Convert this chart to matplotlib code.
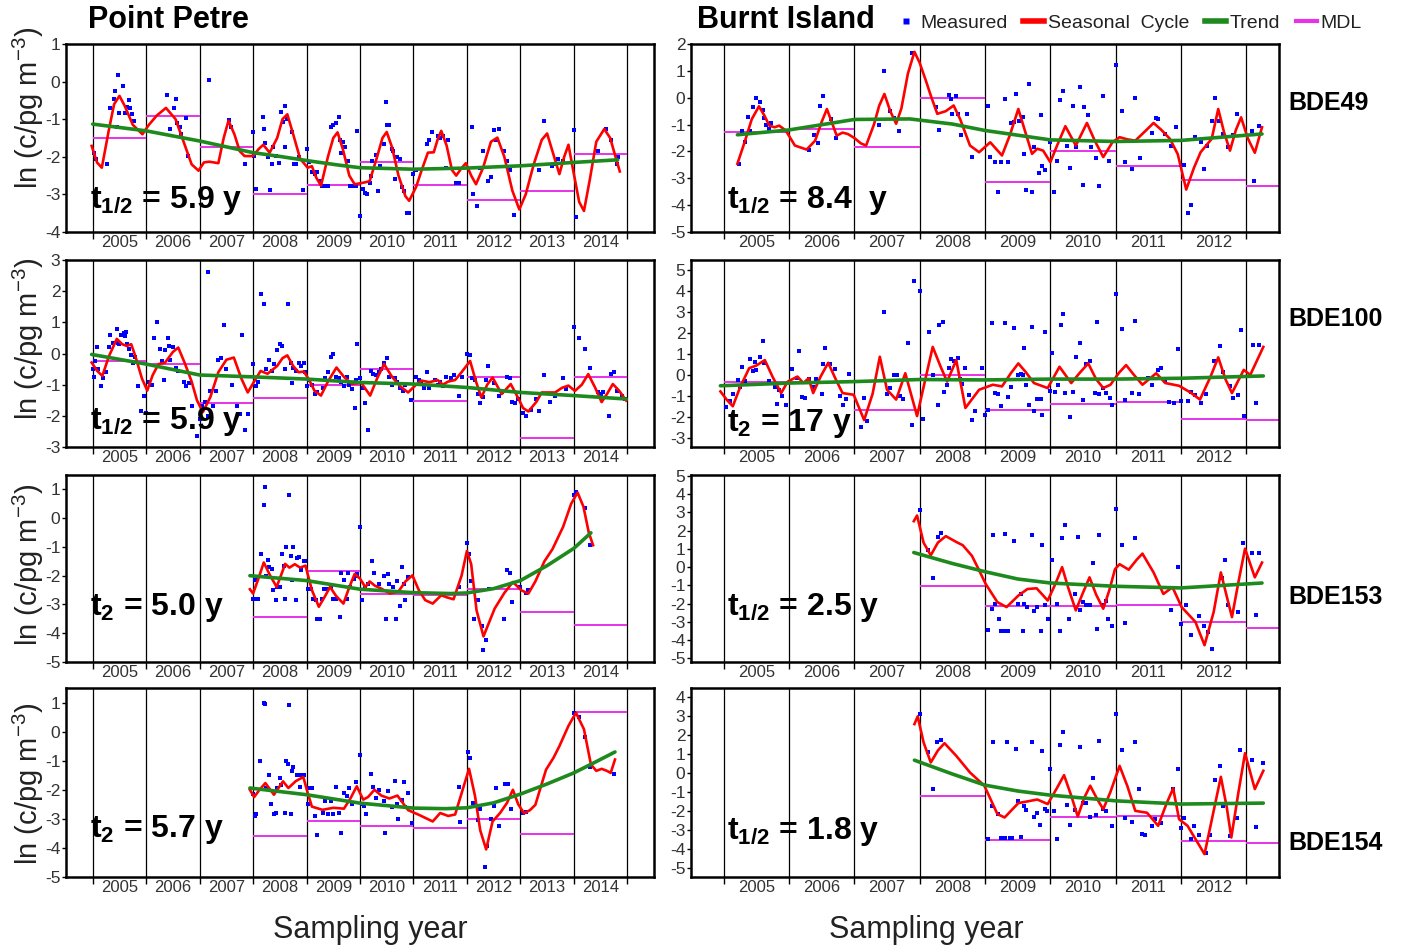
import matplotlib
matplotlib.use('Agg')
import matplotlib.pyplot as plt
from matplotlib import font_manager
from matplotlib.lines import Line2D

# ---------------- DATA ----------------
pp_line_years = list(range(2005, 2016))
pp_label_years = list(range(2005, 2015))
bi_line_years = list(range(2005, 2014))
bi_label_years = list(range(2005, 2013))

# ---- Point Petre BDE49 ----
pp49_meas = [(2005.02,-1.89),(2005.06,-2.06),(2005.27,-2.19),(2005.33,-0.69),(2005.39,-0.46),(2005.41,-0.25),(2005.47,0.17),
 (2005.49,-0.84),(2005.56,-0.11),(2005.60,-0.84),(2005.64,-0.67),(2005.67,-0.49),(2005.69,-0.71),(2005.73,-0.87),(2005.77,-1.06),(2005.45,-1.20),
 (2006.39,-0.36),(2006.56,-0.45),(2006.45,-1.26),(2006.58,-1.09),(2006.64,-1.22),(2006.66,-1.40),(2006.75,-0.97),(2006.78,-1.98),(2006.52,-0.69),
 (2007.17,0.05),(2007.54,-1.02),(2007.59,-1.22),(2007.85,-2.18),
 (2008.00,-1.35),(2008.02,-1.98),(2008.06,-1.89),(2008.19,-0.95),(2008.20,-1.26),(2008.23,-1.62),(2008.27,-2.00),(2008.35,-2.18),(2008.37,-1.75),
 (2008.42,-1.99),(2008.48,-2.17),(2008.52,-0.82),(2008.56,-1.07),(2008.60,-0.64),(2008.59,-1.74),(2008.64,-1.00),(2008.73,-1.35),(2008.77,-2.18),
 (2008.81,-2.18),(2008.85,-2.00),(2008.06,-2.86),(2008.31,-2.89),(2008.94,-2.89),
 (2009.00,-1.80),(2009.05,-2.15),(2009.10,-2.40),(2009.15,-2.45),(2009.20,-2.40),(2009.25,-2.65),(2009.28,-2.78),(2009.32,-2.78),(2009.35,-2.78),
 (2009.40,-2.78),(2009.45,-1.20),(2009.50,-1.15),(2009.55,-1.10),(2009.60,-0.95),(2009.62,-1.55),(2009.68,-1.60),(2009.72,-1.75),(2009.65,-1.90),
 (2009.78,-2.10),(2009.82,-2.78),(2009.88,-2.78),(2009.92,-2.78),(2009.95,-1.32),
 (2010.00,-3.57),(2010.05,-2.85),(2010.10,-2.95),(2010.13,-3.00),(2010.18,-2.70),(2010.20,-2.50),(2010.30,-1.95),(2010.33,-2.90),(2010.38,-2.25),
 (2010.45,-1.65),(2010.50,-1.15),(2010.55,-1.15),(2010.60,-1.80),(2010.62,-1.85),(2010.65,-2.60),(2010.70,-2.00),(2010.75,-2.05),(2010.78,-2.80),
 (2010.82,-2.90),(2010.88,-3.50),(2010.92,-3.50),(2010.48,-0.55),(2010.22,-2.10),
 (2011.00,-2.45),(2011.05,-2.35),(2011.25,-1.65),(2011.30,-1.55),(2011.35,-1.35),(2011.45,-1.45),(2011.50,-1.50),(2011.55,-1.45),(2011.60,-2.30),
 (2011.65,-1.55),(2011.80,-2.70),(2011.85,-2.70),
 (2012.10,-1.20),(2012.12,-3.00),(2012.18,-3.30),(2012.25,-2.30),(2012.30,-1.85),(2012.40,-2.65),(2012.45,-2.55),(2012.50,-1.30),(2012.55,-1.55),
 (2012.60,-1.25),(2012.70,-1.85),(2012.75,-2.10),(2012.80,-2.35),(2012.88,-3.55),
 (2013.35,-2.35),(2013.45,-1.05),(2013.60,-2.25),(2013.65,-2.20),(2013.70,-2.05),(2013.80,-2.10),
 (2014.00,-1.30),(2014.05,-3.60),(2014.45,-1.85),(2014.60,-1.25),(2014.70,-1.55),(2014.80,-2.20),(2014.82,-2.00)]
pp49_sc = [(2004.98,-1.71),(2005.08,-2.15),(2005.17,-2.29),(2005.30,-1.30),(2005.40,-0.60),(2005.50,-0.38),(2005.60,-0.65),(2005.75,-1.15),
 (2005.93,-1.40),(2006.05,-1.15),(2006.20,-0.90),(2006.37,-0.70),(2006.55,-1.00),(2006.70,-1.60),(2006.85,-2.20),(2006.98,-2.37),(2007.08,-2.15),
 (2007.18,-2.13),(2007.35,-2.17),(2007.45,-1.50),(2007.54,-1.04),(2007.65,-1.40),(2007.75,-1.85),(2007.84,-1.98),(2008.00,-1.98),(2008.10,-1.80),
 (2008.19,-1.68),(2008.31,-1.89),(2008.45,-1.50),(2008.55,-1.00),(2008.64,-0.87),(2008.75,-1.40),(2008.88,-2.05),(2009.02,-2.29),(2009.10,-2.25),
 (2009.18,-2.55),(2009.27,-2.77),(2009.40,-2.00),(2009.50,-1.50),(2009.58,-1.35),(2009.68,-1.80),(2009.80,-2.50),(2009.90,-2.73),(2010.06,-2.69),
 (2010.18,-2.65),(2010.32,-2.00),(2010.42,-1.50),(2010.50,-1.34),(2010.60,-1.75),(2010.72,-2.50),(2010.85,-3.05),(2010.92,-3.17),(2011.05,-2.80),
 (2011.15,-2.37),(2011.27,-1.89),(2011.38,-1.88),(2011.45,-1.55),(2011.52,-1.31),(2011.62,-1.70),(2011.72,-2.35),(2011.80,-2.50),(2011.90,-2.30),
 (2011.98,-2.17),(2012.08,-2.50),(2012.17,-2.73),(2012.30,-2.30),(2012.45,-1.60),(2012.57,-1.49),(2012.70,-2.00),(2012.85,-2.90),(2012.98,-3.40),
 (2013.10,-3.00),(2013.25,-2.20),(2013.40,-1.55),(2013.50,-1.38),(2013.60,-1.85),(2013.73,-2.46),(2013.82,-2.00),(2013.90,-1.68),(2013.98,-2.30),
 (2014.10,-3.20),(2014.19,-3.44),(2014.30,-2.60),(2014.42,-1.60),(2014.57,-1.26),(2014.68,-1.50),(2014.78,-2.00),(2014.86,-2.39)]
pp49_tr = [(2005.0,-1.13),(2006.0,-1.31),(2007.0,-1.58),(2008.0,-1.89),(2008.5,-1.99),(2009.1,-2.12),(2009.6,-2.22),(2010.0,-2.29),
 (2011.0,-2.33),(2012.0,-2.30),(2013.0,-2.24),(2014.0,-2.15),(2014.82,-2.08)]
pp49_mdl_years = list(range(2005, 2015))
pp49_mdl = [-1.49,-0.91,-1.75,-2.98,-2.74,-2.15,-2.74,-3.15,-2.91,-1.92]

# ---- Point Petre BDE100 ----
pp100_meas = [(2005.00,-0.50),(2005.02,-0.75),(2005.05,-0.25),(2005.08,0.20),(2005.10,-0.50),(2005.15,-1.05),(2005.20,-0.80),(2005.25,-0.60),
 (2005.30,0.20),(2005.33,0.60),(2005.38,0.35),(2005.45,0.80),(2005.48,0.35),(2005.50,0.30),(2005.52,0.60),(2005.58,0.65),(2005.60,0.55),
 (2005.62,0.70),(2005.65,0.30),(2005.68,0.15),(2005.72,-0.05),(2005.75,-0.30),(2005.80,-0.10),(2005.85,-1.05),(2005.90,-1.85),(2005.95,-1.35),
 (2006.00,-1.90),(2006.05,-0.90),(2006.10,-1.00),(2006.15,0.50),(2006.20,1.00),(2006.25,0.15),(2006.30,-0.25),(2006.33,-0.85),(2006.35,0.10),
 (2006.40,0.50),(2006.42,0.25),(2006.45,-0.20),(2006.50,0.20),(2006.55,-0.45),(2006.60,-0.55),(2006.70,-0.90),(2006.75,-1.05),(2006.80,-0.95),
 (2006.85,-1.70),(2006.95,-2.65),
 (2007.00,-2.10),(2007.05,-1.70),(2007.10,-1.55),(2007.15,-2.00),(2007.20,-1.20),(2007.25,-1.70),(2007.30,-1.20),(2007.35,-0.20),(2007.40,-0.15),
 (2007.45,0.90),(2007.50,-0.50),(2007.60,-1.00),(2007.70,-1.70),(2007.75,-1.95),(2007.80,0.60),(2007.85,-2.45),(2007.90,-1.95),(2007.15,2.60),
 (2008.00,-0.35),(2008.05,-1.05),(2008.10,-0.90),(2008.15,1.90),(2008.20,1.60),(2008.25,-0.50),(2008.30,-0.20),(2008.35,-0.55),(2008.40,-0.35),
 (2008.45,0.10),(2008.50,0.30),(2008.55,0.25),(2008.60,-0.50),(2008.65,1.60),(2008.70,-0.30),(2008.72,-0.95),(2008.75,-0.45),(2008.80,-0.55),
 (2008.85,-0.30),(2008.90,-0.40),(2008.95,-0.30),(2008.98,-0.60),
 (2009.00,-1.05),(2009.05,-0.85),(2009.10,-1.00),(2009.15,-1.30),(2009.20,-1.25),(2009.30,-1.10),(2009.35,-0.80),(2009.40,-0.60),(2009.45,-0.10),
 (2009.50,0.00),(2009.55,-0.75),(2009.60,-0.80),(2009.65,-0.90),(2009.70,-1.05),(2009.75,-0.75),(2009.80,-1.00),(2009.85,-1.15),(2009.90,-1.75),
 (2009.95,0.30),(2009.92,-0.85),
 (2010.00,-0.80),(2010.05,-1.10),(2010.10,-1.60),(2010.15,-2.45),(2010.20,-0.55),(2010.25,-0.65),(2010.30,-0.70),(2010.35,-0.60),(2010.40,-0.50),
 (2010.45,-0.30),(2010.50,-0.15),(2010.55,-0.75),(2010.60,-1.00),(2010.65,-0.80),(2010.70,-0.90),(2010.75,-1.10),(2010.80,-1.20),(2010.85,-1.00),
 (2010.95,-1.50),
 (2011.05,-0.75),(2011.10,-0.85),(2011.15,-0.95),(2011.20,-1.10),(2011.25,-0.60),(2011.30,-1.10),(2011.40,-0.85),(2011.45,-1.00),(2011.50,-0.90),
 (2011.55,-1.05),(2011.60,-0.75),(2011.70,-0.80),(2011.75,-0.70),(2011.85,-1.35),(2011.90,-0.75),
 (2012.00,0.00),(2012.05,-0.05),(2012.10,-0.80),(2012.15,-0.85),(2012.20,-1.30),(2012.25,-1.60),(2012.30,-1.40),(2012.35,-0.85),(2012.40,-0.40),
 (2012.50,-0.95),(2012.60,-1.35),(2012.65,-1.25),(2012.75,-0.75),(2012.80,-0.80),(2012.85,-1.55),(2012.90,-1.60),(2012.95,-1.45),
 (2013.05,-1.90),(2013.10,-2.00),(2013.20,-1.80),(2013.30,-1.45),(2013.35,-1.85),(2013.45,-0.70),(2013.55,-1.55),(2013.65,-1.35),(2013.80,-0.80),
 (2013.85,-1.15),
 (2014.00,0.85),(2014.10,0.50),(2014.20,0.15),(2014.30,-0.45),(2014.45,-1.25),(2014.50,-1.30),(2014.55,-1.25),(2014.65,-2.00),(2014.70,-0.65),
 (2014.75,-0.60),(2014.80,-1.20),(2014.90,-1.35),(2014.95,-1.45)]
pp100_sc = [(2004.98,-0.29),(2005.08,-0.55),(2005.18,-0.72),(2005.30,-0.10),(2005.45,0.47),(2005.55,0.30),(2005.64,0.24),(2005.72,0.30),
 (2005.80,-0.10),(2005.92,-0.80),(2006.02,-1.19),(2006.12,-0.70),(2006.23,-0.34),(2006.35,-0.30),(2006.50,0.05),(2006.60,0.19),(2006.72,-0.30),
 (2006.85,-0.90),(2006.95,-1.50),(2007.06,-1.88),(2007.20,-1.40),(2007.35,-0.60),(2007.50,-0.20),(2007.64,-0.13),(2007.78,-0.80),(2007.90,-1.25),
 (2008.02,-0.90),(2008.14,-0.56),(2008.27,-0.65),(2008.45,-0.40),(2008.55,-0.15),(2008.64,-0.06),(2008.75,-0.40),(2008.85,-0.60),(2008.95,-0.58),
 (2009.05,-0.85),(2009.15,-1.20),(2009.27,-1.35),(2009.40,-0.90),(2009.56,-0.45),(2009.70,-0.75),(2009.85,-0.98),(2010.02,-0.93),(2010.19,-1.35),
 (2010.32,-0.80),(2010.45,-0.34),(2010.60,-0.75),(2010.75,-1.05),(2010.90,-1.25),(2011.05,-1.00),(2011.15,-0.87),(2011.30,-0.92),(2011.45,-0.85),
 (2011.55,-1.00),(2011.65,-0.90),(2011.78,-0.85),(2011.90,-0.60),(2012.06,-0.24),(2012.17,-0.90),(2012.27,-1.41),(2012.38,-1.00),(2012.48,-0.77),
 (2012.57,-1.05),(2012.65,-1.30),(2012.82,-0.98),(2012.95,-1.40),(2013.05,-1.75),(2013.15,-1.86),(2013.30,-1.55),(2013.40,-1.25),(2013.52,-1.25),
 (2013.65,-1.25),(2013.78,-1.10),(2013.90,-1.03),(2014.02,-1.20),(2014.15,-1.00),(2014.27,-0.66),(2014.40,-1.10),(2014.52,-1.56),(2014.62,-1.30),
 (2014.73,-0.98),(2014.85,-1.20),(2014.98,-1.51)]
pp100_tr = [(2004.98,-0.03),(2006.0,-0.34),(2007.0,-0.69),(2008.0,-0.75),(2009.0,-0.82),(2010.0,-0.93),(2011.0,-0.98),(2012.0,-1.09),
 (2013.0,-1.25),(2014.0,-1.35),(2014.98,-1.46)]
pp100_mdl_years = list(range(2005, 2015))
pp100_mdl = [-0.24,-0.34,-1.59,-1.43,-1.00,-0.50,-1.53,-0.75,-2.71,-0.75]

# ---- Point Petre BDE153 ----
pp153_meas = [(2008.00,-2.80),(2008.03,-2.15),(2008.05,-2.80),(2008.10,-2.80),(2008.15,-1.25),(2008.20,0.45),(2008.22,1.10),(2008.25,-2.00),
 (2008.28,-1.45),(2008.30,-1.70),(2008.35,-1.75),(2008.38,-2.50),(2008.42,-2.85),(2008.45,-2.40),(2008.50,-2.40),(2008.55,-1.25),(2008.58,-1.65),
 (2008.60,-2.80),(2008.62,-1.00),(2008.68,0.80),(2008.70,-1.30),(2008.72,-2.15),(2008.75,-1.00),(2008.80,-2.85),(2008.82,-1.40),(2008.85,-1.35),
 (2008.90,-1.80),(2008.95,-1.50),(2008.97,-1.50),
 (2009.02,-2.45),(2009.08,-2.45),(2009.12,-2.80),(2009.18,-2.85),(2009.20,-3.50),(2009.25,-3.50),(2009.28,-2.80),(2009.32,-2.45),(2009.38,-2.45),
 (2009.45,-2.40),(2009.50,-2.80),(2009.55,-2.80),(2009.62,-3.45),(2009.65,-1.90),(2009.70,-2.15),(2009.75,-2.80),(2009.78,-1.90),(2009.82,-2.40),
 (2009.88,-2.10),(2009.92,-2.00),(2009.95,-1.95),
 (2010.00,-0.30),(2010.03,-2.85),(2010.10,-2.40),(2010.15,-2.30),(2010.22,-1.50),(2010.27,-1.90),(2010.35,-2.30),(2010.45,-2.00),(2010.48,-3.50),
 (2010.52,-1.95),(2010.55,-2.30),(2010.62,-2.40),(2010.68,-3.50),(2010.70,-2.20),(2010.75,-3.05),(2010.78,-1.70),(2010.82,-2.30),(2010.85,-2.85),
 (2010.90,-2.05),
 (2011.85,-2.40),
 (2012.00,-0.85),(2012.03,-1.25),(2012.08,-2.20),(2012.13,-3.50),(2012.20,-2.85),(2012.28,-3.75),(2012.31,-4.57),(2012.35,-4.25),(2012.42,-2.45),
 (2012.70,-3.50),(2012.75,-1.80),(2012.80,-1.90),(2012.85,-2.90),
 (2013.00,-2.40),(2013.10,-2.60),(2013.15,-2.50),
 (2014.00,0.80),(2014.05,0.90),(2014.20,0.35),(2014.30,-0.95)]
pp153_sc = [(2007.94,-2.47),(2008.00,-2.62),(2008.10,-2.10),(2008.20,-1.54),(2008.32,-2.00),(2008.44,-2.39),(2008.52,-2.00),(2008.60,-1.59),
 (2008.68,-1.72),(2008.78,-1.60),(2008.88,-1.72),(2008.98,-1.65),(2009.10,-2.50),(2009.23,-3.08),(2009.35,-2.70),(2009.44,-2.39),(2009.55,-2.70),
 (2009.69,-2.97),(2009.80,-2.40),(2009.90,-1.94),(2010.00,-2.10),(2010.10,-2.40),(2010.18,-2.20),(2010.28,-2.35),(2010.40,-2.45),(2010.56,-2.62),
 (2010.72,-2.55),(2010.85,-2.20),(2010.98,-1.99),(2011.10,-2.50),(2011.22,-2.85),(2011.36,-2.97),(2011.52,-2.68),(2011.62,-2.75),(2011.75,-2.82),
 (2011.90,-2.00),(2012.00,-1.14),(2012.08,-1.60),(2012.18,-3.20),(2012.31,-4.11),(2012.42,-3.60),(2012.52,-3.14),(2012.70,-2.60),(2012.86,-2.22),
 (2013.02,-2.51),(2013.15,-2.62),(2013.28,-2.20),(2013.45,-1.50),(2013.60,-1.08),(2013.80,-0.30),(2013.95,0.50),(2014.07,0.89),(2014.18,0.40),
 (2014.28,-0.50),(2014.36,-0.94)]
pp153_tr = [(2007.94,-2.00),(2009.0,-2.17),(2010.0,-2.47),(2011.0,-2.59),(2011.7,-2.62),(2012.0,-2.60),(2012.5,-2.45),(2013.0,-2.17),
 (2013.5,-1.65),(2014.0,-1.05),(2014.32,-0.51)]
pp153_mdl_years = list(range(2008, 2015))
pp153_mdl = [-3.45,-1.85,-2.62,-2.68,-2.47,-3.25,-3.73]

# ---- Point Petre BDE154 ----
pp154_meas = [(2008.00,-2.15),(2008.03,-2.90),(2008.06,-2.85),(2008.12,-1.00),(2008.20,1.00),(2008.22,0.95),(2008.25,-1.95),(2008.30,-1.50),
 (2008.33,-2.50),(2008.40,-2.85),(2008.42,-2.80),(2008.45,-1.95),(2008.50,-1.60),(2008.53,-1.85),(2008.60,-2.80),(2008.62,-1.00),(2008.65,-1.10),
 (2008.68,0.90),(2008.70,-2.85),(2008.72,-1.35),(2008.75,-1.20),(2008.82,-1.50),(2008.87,-1.90),(2008.90,-1.50),(2008.95,-1.50),
 (2009.02,-2.50),(2009.05,-1.95),(2009.10,-1.95),(2009.15,-2.90),(2009.20,-3.55),(2009.30,-2.80),(2009.35,-2.40),(2009.40,-2.85),(2009.45,-2.40),
 (2009.50,-2.85),(2009.55,-1.90),(2009.60,-2.80),(2009.65,-3.50),(2009.70,-2.10),(2009.75,-2.20),(2009.80,-1.95),(2009.85,-2.50),(2009.92,-1.75),
 (2010.00,-0.80),(2010.03,-2.50),(2010.08,-2.55),(2010.12,-2.85),(2010.20,-1.45),(2010.25,-1.90),(2010.30,-2.30),(2010.35,-2.00),(2010.45,-2.40),
 (2010.47,-3.50),(2010.52,-2.05),(2010.60,-2.60),(2010.65,-1.70),(2010.70,-2.50),(2010.72,-3.00),(2010.78,-2.35),(2010.82,-1.75),(2010.85,-2.60),
 (2010.90,-2.10),(2010.98,-3.15),
 (2011.85,-1.90),(2011.88,-3.10),
 (2012.02,-0.70),(2012.05,-0.90),(2012.12,-2.45),(2012.20,-3.05),(2012.25,-2.65),(2012.33,-4.65),(2012.38,-3.95),(2012.45,-3.00),(2012.50,-2.55),
 (2012.55,-1.95),(2012.60,-3.25),(2012.72,-1.80),(2012.77,-1.80),(2012.82,-2.65),
 (2013.05,-2.80),(2013.10,-2.75),
 (2014.00,0.65),(2014.10,0.50),(2014.20,-0.20),(2014.30,-1.20),(2014.75,-1.45)]
pp154_sc = [(2007.94,-2.00),(2008.02,-2.25),(2008.12,-2.00),(2008.23,-1.77),(2008.39,-2.17),(2008.56,-1.71),(2008.66,-1.94),(2008.80,-1.70),
 (2008.94,-1.56),(2009.02,-2.10),(2009.10,-2.58),(2009.30,-2.69),(2009.50,-2.62),(2009.70,-2.65),(2009.82,-2.30),(2009.94,-1.88),(2010.06,-2.34),
 (2010.15,-2.25),(2010.27,-2.00),(2010.40,-2.20),(2010.55,-2.30),(2010.70,-2.20),(2010.78,-2.40),(2010.90,-2.70),(2011.10,-2.86),(2011.36,-3.09),
 (2011.50,-2.80),(2011.65,-2.90),(2011.78,-2.85),(2011.92,-2.00),(2012.04,-1.28),(2012.15,-2.20),(2012.25,-3.40),(2012.36,-4.05),(2012.48,-3.09),
 (2012.62,-2.80),(2012.75,-2.45),(2012.86,-2.00),(2012.96,-2.50),(2013.07,-2.81),(2013.18,-2.70),(2013.28,-2.52),(2013.48,-1.31),(2013.62,-0.90),
 (2013.73,-0.50),(2013.90,0.20),(2014.04,0.65),(2014.19,0.08),(2014.32,-1.13),(2014.42,-1.35),(2014.52,-1.28),(2014.62,-1.35),(2014.69,-1.42),
 (2014.77,-0.96)]
pp154_tr = [(2007.94,-1.94),(2009.0,-2.17),(2010.0,-2.46),(2011.0,-2.63),(2011.6,-2.65),(2012.0,-2.62),(2012.5,-2.45),(2013.0,-2.15),
 (2013.5,-1.80),(2014.0,-1.42),(2014.4,-1.05),(2014.77,-0.70)]
pp154_mdl_years = list(range(2008, 2015))
pp154_mdl = [-3.58,-3.06,-3.23,-3.33,-3.01,-3.53,0.69]

# ---- Burnt Island BDE49 ----
bi49_meas = [(2005.24,-2.46),(2005.28,-1.25),(2005.33,-1.65),(2005.37,-0.70),(2005.40,-1.25),(2005.45,-0.35),(2005.50,0.00),(2005.55,-0.15),
 (2005.60,-0.45),(2005.62,-0.75),(2005.65,-1.00),(2005.70,-1.15),(2005.72,-0.95),
 (2006.30,-1.95),(2006.38,-1.40),(2006.45,-1.70),(2006.48,-0.30),(2006.52,0.05),(2006.65,-0.80),(2006.72,-1.50),
 (2007.38,-1.00),(2007.45,1.00),(2007.55,-0.50),(2007.60,-0.75),(2007.68,-1.25),(2007.88,1.65),
 (2008.25,-0.35),(2008.30,-1.20),(2008.45,0.10),(2008.48,-0.05),(2008.50,-0.60),(2008.55,0.05),(2008.58,-0.60),(2008.63,-1.40),(2008.72,-0.60),
 (2008.80,-2.20),
 (2009.05,-0.30),(2009.08,-2.20),(2009.15,-2.40),(2009.20,-3.50),(2009.25,-2.40),(2009.30,-0.05),(2009.35,-2.40),(2009.40,-0.95),(2009.45,-0.90),
 (2009.48,0.15),(2009.52,-0.85),(2009.58,-0.70),(2009.60,-2.10),(2009.63,-3.45),(2009.68,0.50),(2009.72,-3.50),(2009.75,-1.85),(2009.82,-2.80),
 (2009.85,-0.65),(2009.88,-2.55),(2009.92,-2.70),
 (2010.00,-1.65),(2010.05,-3.50),(2010.10,-2.35),(2010.15,-0.10),(2010.20,0.25),(2010.25,-1.80),(2010.30,-2.60),(2010.35,-0.30),(2010.40,-1.85),
 (2010.45,0.40),(2010.50,-3.25),(2010.52,-0.35),(2010.58,-0.65),(2010.62,-1.85),(2010.70,-2.25),(2010.75,-3.30),(2010.80,0.05),(2010.90,-2.35),
 (2011.00,1.20),(2011.10,-0.50),(2011.15,-2.40),(2011.25,-2.65),(2011.30,0.00),(2011.38,-2.25),(2011.55,-1.30),(2011.62,-0.75),(2011.65,-0.80),
 (2011.75,-1.35),(2011.85,-1.80),(2011.92,-1.10),
 (2012.00,-2.50),(2012.05,-2.50),(2012.10,-4.30),(2012.15,-4.00),(2012.22,-1.45),(2012.30,-1.65),(2012.35,-2.65),(2012.40,-1.80),(2012.48,-0.85),
 (2012.52,0.00),(2012.58,-0.85),(2012.65,-1.35),(2012.72,-1.85),(2012.80,-1.40),(2012.85,-0.60),
 (2013.08,-1.25),(2013.12,-3.10),(2013.20,-1.05)]
bi49_sc = [(2005.21,-2.46),(2005.32,-1.66),(2005.43,-0.80),(2005.54,-0.32),(2005.62,-0.65),(2005.70,-1.04),(2005.78,-1.10),(2005.85,-1.04),
 (2005.95,-1.22),(2006.09,-1.78),(2006.27,-1.93),(2006.40,-1.60),(2006.50,-0.90),(2006.58,-0.42),(2006.66,-0.95),(2006.73,-1.41),(2006.82,-1.30),
 (2006.90,-1.35),(2007.00,-1.50),(2007.10,-1.70),(2007.18,-1.78),(2007.30,-1.00),(2007.38,-0.30),(2007.46,0.14),(2007.55,-0.50),(2007.64,-0.97),
 (2007.72,-0.40),(2007.82,0.90),(2007.92,1.71),(2008.00,1.30),(2008.10,0.60),(2008.17,0.08),(2008.27,-0.60),(2008.40,-0.50),(2008.52,-0.29),
 (2008.62,-0.80),(2008.77,-1.78),(2008.91,-2.03),(2009.08,-1.66),(2009.26,-2.15),(2009.38,-1.40),(2009.51,-0.42),(2009.62,-1.30),(2009.72,-2.09),
 (2009.80,-1.90),(2009.89,-1.97),(2010.00,-2.40),(2010.10,-1.80),(2010.23,-1.06),(2010.39,-1.78),(2010.56,-0.94),(2010.68,-1.60),(2010.81,-2.21),
 (2010.95,-1.66),(2011.06,-1.47),(2011.18,-1.55),(2011.30,-1.60),(2011.45,-1.25),(2011.58,-0.94),(2011.70,-1.20),(2011.83,-1.53),(2011.95,-2.10),
 (2012.08,-3.42),(2012.20,-2.60),(2012.30,-2.03),(2012.47,-1.53),(2012.57,-0.42),(2012.66,-1.30),(2012.75,-1.97),(2012.84,-1.20),(2012.92,-0.73),
 (2013.02,-1.50),(2013.13,-2.05),(2013.24,-1.10)]
bi49_tr = [(2005.21,-1.38),(2006.0,-1.20),(2007.0,-0.81),(2007.85,-0.79),(2008.5,-0.98),(2009.0,-1.22),(2010.0,-1.57),(2011.0,-1.63),
 (2012.0,-1.59),(2013.24,-1.35)]
bi49_mdl_years = list(range(2005, 2014))
bi49_mdl = [-1.28,-1.18,-1.83,0.00,-3.12,-1.97,-2.56,-3.08,-3.30]

# ---- Burnt Island BDE100 ----
bi100_meas = [(2005.03,-1.55),(2005.10,-1.25),(2005.15,-0.90),(2005.22,-0.25),(2005.25,-0.60),(2005.28,0.40),(2005.33,-0.30),(2005.40,0.75),
 (2005.45,0.20),(2005.48,0.60),(2005.50,0.25),(2005.55,0.85),(2005.60,1.60),(2005.62,0.55),(2005.70,-0.30),(2005.78,-0.60),(2005.82,-1.40),
 (2005.85,-0.70),(2005.90,-1.00),(2005.95,-1.45),
 (2006.05,0.30),(2006.12,-0.15),(2006.15,1.15),(2006.20,-1.05),(2006.25,-1.10),(2006.30,-0.20),(2006.38,-0.60),(2006.42,-0.20),(2006.50,-0.90),
 (2006.52,0.50),(2006.55,1.30),(2006.62,0.50),(2006.70,0.30),(2006.78,-1.00),(2006.82,-1.45),(2006.88,-1.15),(2006.92,0.05),
 (2007.10,-2.50),(2007.15,-1.10),(2007.20,-2.20),(2007.45,3.00),(2007.50,-0.90),(2007.55,-0.65),(2007.60,0.00),(2007.65,0.00),(2007.70,-1.00),
 (2007.75,-1.15),(2007.82,1.55),(2007.88,-2.40),(2007.92,4.50),
 (2008.00,4.00),(2008.05,-2.10),(2008.15,2.05),(2008.20,0.00),(2008.30,2.40),(2008.35,2.55),(2008.28,-1.45),(2008.38,-0.80),(2008.42,-0.50),
 (2008.45,0.35),(2008.48,0.75),(2008.52,0.65),(2008.58,0.80),(2008.62,-0.20),(2008.65,-0.45),(2008.70,0.35),(2008.75,-0.95),(2008.80,-2.15),
 (2008.85,-1.75),(2008.95,0.35),
 (2009.00,-1.90),(2009.05,-1.70),(2009.10,2.50),(2009.15,-0.85),(2009.20,-0.90),(2009.25,-1.50),(2009.30,2.50),(2009.35,-1.05),(2009.40,-0.60),
 (2009.45,2.25),(2009.50,0.00),(2009.55,0.05),(2009.58,0.00),(2009.60,1.30),(2009.62,-0.50),(2009.68,-1.45),(2009.72,2.30),(2009.75,-1.75),
 (2009.80,-1.15),(2009.85,-1.15),(2009.88,-1.90),(2009.92,2.05),
 (2010.00,-0.75),(2010.02,1.05),(2010.07,-0.80),(2010.12,-0.50),(2010.17,2.40),(2010.20,2.90),(2010.22,-0.85),(2010.30,-2.00),(2010.35,-0.80),
 (2010.40,0.85),(2010.45,1.55),(2010.50,-1.20),(2010.55,0.50),(2010.60,0.65),(2010.68,-0.85),(2010.72,2.55),(2010.75,-0.90),(2010.80,-0.65),
 (2010.85,-0.85),(2010.92,-1.10),(2010.95,-1.45),
 (2011.00,3.85),(2011.10,2.20),(2011.15,-1.20),(2011.25,-0.85),(2011.30,2.60),(2011.35,-0.90),(2011.50,-0.15),(2011.55,-0.50),(2011.65,0.25),
 (2011.70,0.35),(2011.75,-0.30),(2011.82,-1.30),(2011.90,-1.35),(2011.95,1.25),
 (2012.00,-1.25),(2012.10,-1.25),(2012.15,-0.80),(2012.22,-0.95),(2012.30,-1.35),(2012.38,-0.90),(2012.50,0.65),(2012.60,1.40),(2012.65,0.15),
 (2012.75,-0.55),(2012.80,-1.10),(2012.87,-0.95),(2012.92,2.15),(2012.97,-1.95),
 (2013.10,1.45),(2013.15,-1.35),(2013.20,1.45)]
bi100_sc = [(2004.95,-0.79),(2005.05,-1.20),(2005.14,-1.50),(2005.25,-0.60),(2005.39,0.32),(2005.50,0.45),(2005.63,0.71),(2005.75,-0.10),
 (2005.88,-0.87),(2005.98,-0.32),(2006.13,-0.08),(2006.22,-0.39),(2006.30,-0.16),(2006.37,-0.87),(2006.48,-0.10),(2006.60,0.58),(2006.72,-0.24),
 (2006.82,-0.87),(2006.99,-0.95),(2007.15,-2.16),(2007.28,-0.90),(2007.39,0.87),(2007.50,-0.71),(2007.64,-1.18),(2007.78,0.08),(2007.96,-1.97),
 (2008.08,-0.30),(2008.20,1.34),(2008.32,0.40),(2008.42,-0.32),(2008.56,0.71),(2008.70,-1.58),(2008.91,-0.71),(2009.12,-0.47),(2009.26,-0.55),
 (2009.40,0.10),(2009.51,0.55),(2009.62,0.15),(2009.75,-0.39),(2009.96,-0.63),(2010.14,0.39),(2010.32,-0.39),(2010.45,0.10),(2010.58,0.55),
 (2010.70,-0.20),(2010.81,-0.63),(2010.92,-0.47),(2011.05,0.10),(2011.16,0.47),(2011.28,0.00),(2011.41,-0.47),(2011.62,0.08),(2011.76,-0.39),
 (2011.97,-0.52),(2012.15,-0.85),(2012.29,-1.18),(2012.45,-0.10),(2012.57,0.84),(2012.68,-0.20),(2012.78,-0.87),(2012.96,0.24),(2013.06,0.00),
 (2013.26,1.34)]
bi100_tr = [(2004.95,-0.52),(2006.0,-0.39),(2007.0,-0.32),(2008.0,-0.22),(2009.0,-0.24),(2010.0,-0.20),(2011.0,-0.20),(2012.0,-0.16),
 (2013.26,-0.05)]
bi100_mdl_years = list(range(2005, 2014))
bi100_mdl = [-0.36,-0.36,-1.66,0.00,-1.66,-1.37,-1.29,-2.13,-2.16]

# ---- Burnt Island BDE153 ----
bi153_meas = [(2008.00,3.15),(2008.13,0.95),(2008.20,-0.60),(2008.28,1.65),(2008.32,1.85),
 (2009.05,-3.45),(2009.10,-2.30),(2009.12,1.75),(2009.15,-2.00),(2009.22,-2.85),(2009.25,-3.50),(2009.30,1.80),(2009.31,-3.50),(2009.35,-3.50),
 (2009.45,1.45),(2009.50,-2.00),(2009.55,-1.50),(2009.58,-3.50),(2009.60,-2.00),(2009.65,-2.20),(2009.72,1.75),(2009.75,-2.40),(2009.80,-2.20),
 (2009.85,-3.50),(2009.88,1.20),(2009.92,-2.10),(2009.96,-2.85),
 (2010.02,0.40),(2010.10,-2.00),(2010.15,-3.50),(2010.18,1.60),(2010.23,2.30),(2010.28,-2.85),(2010.38,-1.50),(2010.42,1.65),(2010.45,-2.35),
 (2010.50,-1.90),(2010.55,-2.10),(2010.60,-2.05),(2010.65,0.20),(2010.72,-3.40),(2010.75,1.75),(2010.80,-2.10),(2010.85,-1.85),(2010.88,-2.85),
 (2010.95,-3.25),
 (2011.00,3.20),(2011.10,1.20),(2011.15,-3.05),(2011.30,1.60),(2011.85,-2.35),(2011.95,0.00),
 (2012.00,-3.10),(2012.08,-2.10),(2012.15,-3.70),(2012.28,-2.70),(2012.35,-3.20),(2012.42,-3.55),(2012.48,-4.50),(2012.62,-0.60),(2012.68,0.40),
 (2012.72,-2.10),(2012.88,-2.45),(2012.95,1.35),
 (2013.08,0.75),(2013.15,-2.65),(2013.20,0.75)]
bi153_sc = [(2007.91,2.52),(2007.96,2.83),(2008.06,1.34),(2008.17,0.65),(2008.28,1.35),(2008.40,1.70),(2008.56,1.38),(2008.66,1.20),(2008.80,0.62),
 (2008.90,-0.10),(2009.01,-0.92),(2009.19,-1.92),(2009.33,-2.19),(2009.51,-1.56),(2009.65,-1.20),(2009.79,-1.16),(2009.96,-1.83),(2010.08,-0.90),
 (2010.18,0.00),(2010.28,-1.20),(2010.39,-2.37),(2010.50,-1.40),(2010.60,-0.56),(2010.70,-1.50),(2010.81,-2.28),(2010.90,-1.30),(2010.99,-0.11),
 (2011.06,0.16),(2011.20,-0.14),(2011.32,0.40),(2011.41,0.74),(2011.58,-0.29),(2011.73,-1.47),(2011.87,-1.10),(2012.01,-2.19),(2012.22,-3.00),
 (2012.36,-4.28),(2012.50,-2.46),(2012.61,-0.29),(2012.70,-1.60),(2012.78,-2.74),(2012.88,-0.80),(2012.98,1.01),(2013.13,-0.56),(2013.24,0.25)]
bi153_tr = [(2007.91,0.80),(2008.5,0.20),(2009.0,-0.25),(2009.5,-0.65),(2010.0,-0.87),(2011.0,-1.05),(2012.0,-1.14),(2013.24,-0.87)]
bi153_mdl_years = list(range(2008, 2014))
bi153_mdl = [-1.01,-2.14,-2.14,-2.07,-3.01,-3.32]

# ---- Burnt Island BDE154 ----
bi154_meas = [(2008.00,3.10),(2008.12,1.10),(2008.20,-0.85),(2008.27,1.65),(2008.32,1.75),
 (2009.05,-3.50),(2009.10,-1.75),(2009.12,1.65),(2009.20,-2.15),(2009.25,-3.45),(2009.30,-3.45),(2009.33,1.65),(2009.38,-3.45),(2009.42,-3.45),
 (2009.48,1.25),(2009.50,-1.50),(2009.55,-3.40),(2009.60,-1.75),(2009.62,-1.95),(2009.72,1.65),(2009.75,-2.35),(2009.80,-2.10),(2009.84,-2.75),
 (2009.88,1.15),(2009.92,-1.90),(2009.95,-2.00),
 (2010.00,0.20),(2010.05,-2.00),(2010.10,-3.50),(2010.15,1.50),(2010.20,2.15),(2010.25,-1.70),(2010.30,-2.75),(2010.38,-1.95),(2010.45,1.40),
 (2010.50,-1.60),(2010.55,-1.60),(2010.60,-2.30),(2010.65,-0.25),(2010.70,-2.20),(2010.75,1.70),(2010.80,-1.90),(2010.85,-2.00),(2010.95,-2.80),
 (2011.00,3.10),(2011.10,1.20),(2011.15,-2.40),(2011.25,-2.60),(2011.30,1.65),(2011.35,-0.85),(2011.40,-3.20),(2011.45,-3.30),(2011.55,-2.80),
 (2011.60,-2.45),(2011.70,-2.65),(2011.88,-0.85),(2011.95,0.20),
 (2012.00,-2.90),(2012.05,-2.40),(2012.15,-3.50),(2012.20,-2.80),(2012.28,-3.30),(2012.38,-4.25),(2012.45,-3.30),(2012.52,-0.35),(2012.60,0.35),
 (2012.65,-1.75),(2012.75,-3.35),(2012.85,-2.40),(2012.90,1.20),
 (2013.08,0.70),(2013.15,-2.85),(2013.25,0.55)]
bi154_sc = [(2007.92,2.59),(2007.97,3.00),(2008.06,1.62),(2008.17,0.56),(2008.28,1.20),(2008.38,1.58),(2008.56,0.91),(2008.77,0.03),(2008.99,-0.67),
 (2009.19,-2.17),(2009.30,-2.35),(2009.51,-1.59),(2009.65,-1.50),(2009.80,-1.40),(2009.96,-1.64),(2010.10,-0.80),(2010.21,-0.11),(2010.32,-1.20),
 (2010.42,-2.30),(2010.52,-1.30),(2010.61,-0.67),(2010.72,-1.40),(2010.81,-1.91),(2010.92,-1.00),(2011.06,0.38),(2011.18,-0.70),(2011.30,-2.00),
 (2011.48,-2.10),(2011.65,-2.79),(2011.78,-1.60),(2011.88,-0.81),(2011.97,-2.44),(2012.10,-2.79),(2012.36,-4.29),(2012.50,-2.00),(2012.61,-0.20),
 (2012.70,-1.80),(2012.77,-3.41),(2012.88,-1.00),(2012.98,1.05),(2013.13,-0.85),(2013.26,0.12)]
bi154_tr = [(2007.92,0.68),(2008.5,-0.05),(2009.0,-0.64),(2009.5,-0.95),(2010.0,-1.17),(2011.0,-1.47),(2012.0,-1.64),(2013.26,-1.59)]
bi154_mdl_years = list(range(2008, 2014))
bi154_mdl = [-1.24,-3.53,-2.35,-2.26,-3.58,-3.71]

compound_labels = ['BDE49', 'BDE100', 'BDE153', 'BDE154']
notes_pp = [('1/2', '5.9 y'), ('1/2', '5.9 y'), ('2', '5.0 y'), ('2', '5.7 y')]
notes_bi = [('1/2', '8.4  y'), ('2', '17 y'), ('1/2', '2.5 y'), ('1/2', '1.8 y')]

# ---------------- STYLE ----------------
avail = {f.name for f in font_manager.fontManager.ttflist}
BASE = 'Liberation Sans' if 'Liberation Sans' in avail else 'DejaVu Sans'
NARROW = 'Liberation Sans Narrow' if 'Liberation Sans Narrow' in avail else BASE
plt.rcParams['font.family'] = [BASE, 'DejaVu Sans']
plt.rcParams['axes.unicode_minus'] = False
plt.rcParams['mathtext.fontset'] = 'custom'
plt.rcParams['mathtext.rm'] = BASE
plt.rcParams['mathtext.it'] = BASE + ':italic'
plt.rcParams['mathtext.bf'] = NARROW + ':bold'

BLUE = '#0000FF'
RED = '#FF0000'
GREEN = '#1E8A1E'
MAG = '#E633E6'
TXT = '#222222'

W, H = 1402, 952
fig = plt.figure(figsize=(W / 100, H / 100), dpi=100)

row_tops = [44, 260, 475, 688]
row_bots = [232, 447, 662, 877]
left_x0, right_x0, ax_w = 66, 691, 588

pp_ylims = [(-4, 1), (-3, 3), (-5, 1.5), (-5, 1.5)]
pp_yticks = [range(-4, 2), range(-3, 4), range(-5, 2), range(-5, 2)]
bi_ylims = [(-5, 2), (-3.45, 5.5), (-5.2, 5.05), (-5.5, 4.5)]
bi_yticks = [range(-5, 3), range(-3, 6), range(-5, 6), range(-5, 5)]
pp_note_y = [0.17, 0.135, 0.29, 0.25]
bi_note_y = [0.17, 0.125, 0.29, 0.24]
ylabel_y = [0.66, 0.58, 0.52, 0.49]


def split(pairs):
    return [p[0] for p in pairs], [p[1] for p in pairs]


def panel(x0, row, xlim, ylim, yticks, line_years, label_years, meas, sc, tr, mdl_years, mdl, note, note_x, note_y):
    rect = [x0 / W, 1 - row_bots[row] / H, ax_w / W, (row_bots[row] - row_tops[row]) / H]
    ax = fig.add_axes(rect)
    ax.set_xlim(*xlim)
    ax.set_ylim(*ylim)
    for yr in line_years:
        ax.axvline(yr, color='black', lw=0.9, zorder=1)
    ax.hlines(mdl, mdl_years, [y + 1 for y in mdl_years], colors=MAG, lw=1.4, zorder=2)
    mx, my = split(meas)
    ax.scatter(mx, my, marker='s', s=11, color=BLUE, linewidths=0, zorder=3)
    sx, sy = split(sc)
    ax.plot(sx, sy, color=RED, lw=1.9, zorder=4, solid_joinstyle='round')
    tx, ty = split(tr)
    ax.plot(tx, ty, color=GREEN, lw=2.6, zorder=5, solid_capstyle='round')
    ax.set_xticks(line_years)
    ax.set_xticklabels([])
    ax.set_xticks([y + 0.5 for y in label_years], minor=True)
    ax.set_xticklabels([str(y) for y in label_years], minor=True)
    ax.tick_params(axis='x', which='major', direction='out', length=5, width=1)
    ax.tick_params(axis='x', which='minor', length=0, pad=2, labelsize=12, labelcolor='#333333')
    ax.set_yticks(list(yticks))
    ax.tick_params(axis='y', direction='out', length=3, width=1, labelsize=12.5, pad=1, labelcolor='#333333')
    for s in ax.spines.values():
        s.set_linewidth(1.8)
    sub, val = note
    ax.text(note_x, note_y, r'$\mathbf{t_{' + sub + r'}}$ = ' + val, transform=ax.transAxes,
            fontfamily=NARROW, fontweight='bold', fontsize=23, va='center', ha='left', zorder=6, color='black')
    return ax


pp_data = [(pp49_meas, pp49_sc, pp49_tr, pp49_mdl_years, pp49_mdl),
           (pp100_meas, pp100_sc, pp100_tr, pp100_mdl_years, pp100_mdl),
           (pp153_meas, pp153_sc, pp153_tr, pp153_mdl_years, pp153_mdl),
           (pp154_meas, pp154_sc, pp154_tr, pp154_mdl_years, pp154_mdl)]
bi_data = [(bi49_meas, bi49_sc, bi49_tr, bi49_mdl_years, bi49_mdl),
           (bi100_meas, bi100_sc, bi100_tr, bi100_mdl_years, bi100_mdl),
           (bi153_meas, bi153_sc, bi153_tr, bi153_mdl_years, bi153_mdl),
           (bi154_meas, bi154_sc, bi154_tr, bi154_mdl_years, bi154_mdl)]

for r in range(4):
    m, s, t, my_, mv = pp_data[r]
    ax = panel(left_x0, r, (2004.5, 2015.5), pp_ylims[r], pp_yticks[r], pp_line_years, pp_label_years,
               m, s, t, my_, mv, notes_pp[r], 0.041, pp_note_y[r])
    ax.set_ylabel(r'ln (c/pg m$^{-3}$)', fontsize=21, color=TXT)
    ax.yaxis.set_label_coords(-0.034, ylabel_y[r])
    m, s, t, my_, mv = bi_data[r]
    panel(right_x0, r, (2004.5, 2013.5), bi_ylims[r], bi_yticks[r], bi_line_years, bi_label_years,
          m, s, t, my_, mv, notes_bi[r], 0.061, bi_note_y[r])

# titles
fig.text(88 / W, 1 - 20 / H, 'Point Petre', fontsize=22, fontweight='bold', va='center', ha='left')
fig.text(697 / W, 1 - 20 / H, 'Burnt Island', fontsize=22, fontweight='bold', va='center', ha='left')

# compound labels
for lab, yy in zip(compound_labels, [103, 319, 597, 843]):
    fig.text(1288 / W, 1 - yy / H, lab, fontsize=18, fontweight='bold', va='center', ha='left')

# x labels
fig.text(370 / W, 1 - 930 / H, 'Sampling year', fontsize=22, va='center', ha='center', color=TXT)
fig.text(926 / W, 1 - 930 / H, 'Sampling year', fontsize=22, va='center', ha='center', color=TXT)

# legend
handles = [Line2D([], [], marker='s', color='none', markerfacecolor=BLUE, markeredgecolor='none', markersize=5),
           Line2D([], [], color=RED, lw=4),
           Line2D([], [], color=GREEN, lw=4),
           Line2D([], [], color=MAG, lw=3)]
leg = fig.legend(handles, ['Measured', 'Seasonal  Cycle', 'Trend', 'MDL'], loc='center left',
                 bbox_to_anchor=(895 / W, 1 - 23 / H), ncol=4, handlelength=1.08, handletextpad=0.2,
                 columnspacing=0.8, borderpad=0, borderaxespad=0, frameon=False, fontsize=14)
for t in leg.get_texts():
    t.set_color(TXT)

fig.savefig('out.png', dpi=100)
